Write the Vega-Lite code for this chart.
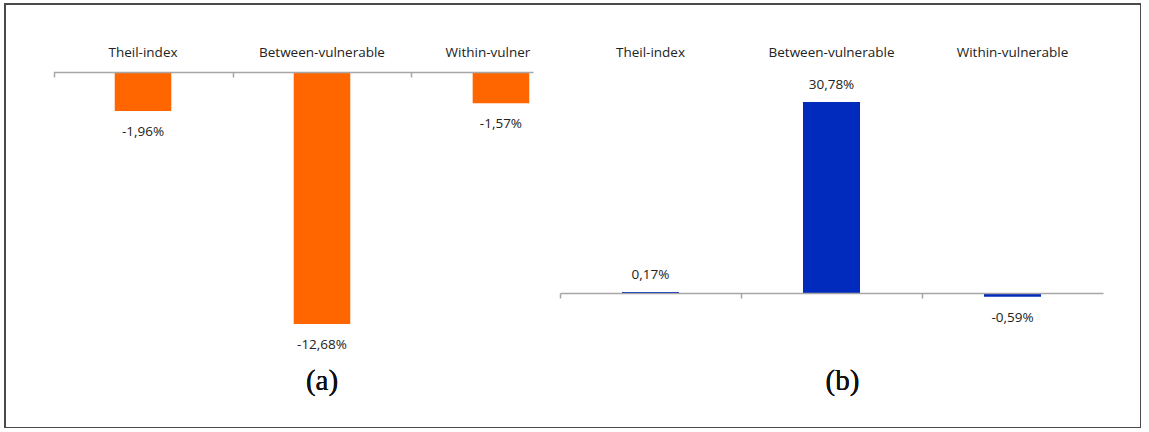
{
  "$schema": "https://vega.github.io/schema/vega-lite/v6.json",
  "autosize": {"type": "none"},
  "width": 1136,
  "height": 424,
  "padding": {"left": 5, "top": 4, "right": 0, "bottom": 0},
  "background": "white",
  "config": {
    "view": {"stroke": "#4a4a4a", "strokeWidth": 2},
    "locale": {"number": {"decimal": ",", "thousands": ".", "grouping": [3], "currency": ["", "€"], "percent": "%", "minus": "-"}},
    "font": "Open Sans"
  },
  "data": {"values": [
    {"panel": "a", "cat": "Theil-index", "v": -0.0196},
    {"panel": "a", "cat": "Between-vulnerable", "v": -0.1268},
    {"panel": "a", "cat": "Within-vulnerable", "v": -0.0157},
    {"panel": "b", "cat": "Theil-index", "v": 0.0017},
    {"panel": "b", "cat": "Between-vulnerable", "v": 0.3078},
    {"panel": "b", "cat": "Within-vulnerable", "v": -0.0059}
  ]},
  "layer": [
    {
      "transform": [{"filter": "datum.panel == 'a'"}],
      "layer": [
        {
          "mark": {"type": "bar", "color": "#ff6600"},
          "encoding": {
            "x": {"field": "cat", "type": "nominal", "sort": null,
              "scale": {"range": [48.5, 528], "paddingInner": 0.684, "paddingOuter": 0.1816, "align": 0.942},
              "axis": {"orient": "top", "offset": -57, "domain": false, "ticks": false, "title": null, "labelAngle": 0, "labelPadding": 2, "labelFontSize": 13.5, "labelColor": "#222222", "labelFont": "Open Sans",
                "labelExpr": "datum.value == 'Within-vulnerable' ? 'Within-vulner' : datum.label",
                "labelOffset": {"condition": {"test": "datum.value == 'Within-vulnerable'", "value": -13}, "value": 0}}},
            "y": {"field": "v", "type": "quantitative", "scale": {"domain": [-0.14, 0], "range": [346.2, 68], "nice": false, "zero": false}, "axis": null}
          }
        },
        {
          "mark": {"type": "text", "baseline": "middle", "dy": 21, "fontSize": 13.5, "color": "#222222", "font": "Open Sans"},
          "encoding": {
            "x": {"field": "cat", "type": "nominal", "sort": null,
              "axis": {"orient": "bottom", "offset": -356, "labels": false, "title": null, "domainColor": "#a6a6a6", "domainWidth": 1.5, "tickColor": "#a6a6a6", "tickWidth": 1.5, "tickSize": 5, "bandPosition": 0, "tickOffset": -61.2, "zindex": 1}},
            "y": {"field": "v", "type": "quantitative", "axis": null},
            "text": {"field": "v", "type": "quantitative", "format": ".2%"}
          }
        },
        {
          "mark": {"type": "text", "font": "Times New Roman, Liberation Serif, serif", "fontWeight": "normal", "fontSize": 29, "color": "#111111", "baseline": "middle", "text": "(a)"},
          "encoding": {
            "x": {"datum": "Between-vulnerable", "type": "nominal", "axis": null},
            "y": {"datum": -0.1555, "type": "quantitative", "axis": null}
          }
        }
      ],
      "resolve": {"axis": {"x": "independent", "y": "independent"}}
    },
    {
      "transform": [{"filter": "datum.panel == 'b'"}],
      "layer": [
        {
          "mark": {"type": "bar", "color": "#002bbd"},
          "encoding": {
            "x": {"field": "cat", "type": "nominal", "sort": null,
              "scale": {"range": [555, 1098], "paddingInner": 0.685, "paddingOuter": 0.3425, "align": 0.5},
              "axis": {"orient": "top", "offset": -57, "domain": false, "ticks": false, "title": null, "labelAngle": 0, "labelPadding": 2, "labelFontSize": 13.5, "labelColor": "#222222", "labelFont": "Open Sans"}},
            "y": {"field": "v", "type": "quantitative", "scale": {"domain": [0, 0.35], "range": [289, 71.8], "nice": false, "zero": false}, "axis": null}
          }
        },
        {
          "transform": [{"filter": "datum.v >= 0"}],
          "mark": {"type": "text", "baseline": "middle", "dy": -17, "fontSize": 13.5, "color": "#222222", "font": "Open Sans"},
          "encoding": {
            "x": {"field": "cat", "type": "nominal", "sort": null,
              "axis": {"orient": "bottom", "offset": -135, "labels": false, "title": null, "domainColor": "#a6a6a6", "domainWidth": 1.5, "tickColor": "#a6a6a6", "tickWidth": 1.5, "tickSize": 5, "bandPosition": 0, "tickOffset": -62, "zindex": 1}},
            "y": {"field": "v", "type": "quantitative", "axis": null},
            "text": {"field": "v", "type": "quantitative", "format": ".2%"}
          }
        },
        {
          "transform": [{"filter": "datum.v < 0"}],
          "mark": {"type": "text", "baseline": "middle", "dy": 21, "fontSize": 13.5, "color": "#222222", "font": "Open Sans"},
          "encoding": {
            "x": {"field": "cat", "type": "nominal", "sort": null, "axis": null},
            "y": {"field": "v", "type": "quantitative", "axis": null},
            "text": {"field": "v", "type": "quantitative", "format": ".2%"}
          }
        },
        {
          "mark": {"type": "text", "font": "Times New Roman, Liberation Serif, serif", "fontWeight": "normal", "fontSize": 29, "color": "#111111", "baseline": "middle", "dx": 11, "text": "(b)"},
          "encoding": {
            "x": {"datum": "Between-vulnerable", "type": "nominal", "axis": null},
            "y": {"datum": -0.142, "type": "quantitative", "axis": null}
          }
        }
      ],
      "resolve": {"axis": {"x": "independent", "y": "independent"}}
    }
  ],
  "resolve": {"scale": {"x": "independent", "y": "independent"}, "axis": {"x": "independent", "y": "independent"}}
}
